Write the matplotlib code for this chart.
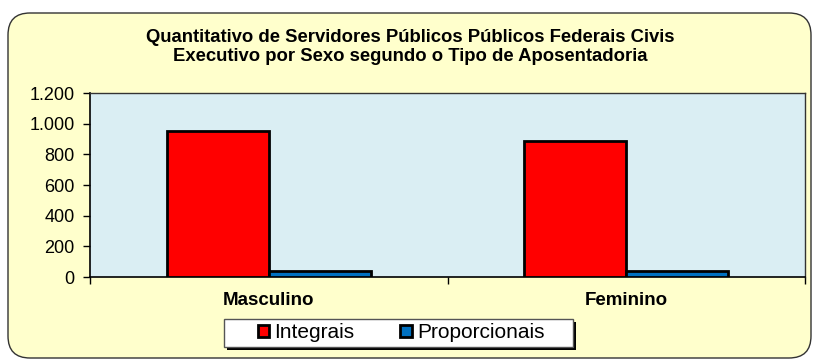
import matplotlib.pyplot as plt
import numpy as np
from matplotlib.patches import FancyBboxPatch, Rectangle
from matplotlib.ticker import FuncFormatter

# Aposentadorias por sexo
categorias = ['Masculino', 'Feminino']
integrais = [952, 887]
proporcionais = [40, 38]
series = ['Integrais', 'Proporcionais']
cores = ['#FF0000', '#0070C0']
yticks = [0, 200, 400, 600, 800, 1000, 1200]

plt.rcParams['font.family'] = ['Liberation Sans', 'DejaVu Sans']

W, H = 813, 360
fig = plt.figure(figsize=(W / 100, H / 100), dpi=100)
fig.patch.set_facecolor('white')

# fundo em coordenadas de pixel: moldura arredondada e caixa da legenda
bg = fig.add_axes([0, 0, 1, 1], zorder=-5)
bg.set_xlim(0, W)
bg.set_ylim(H, 0)
bg.axis('off')
bg.add_patch(FancyBboxPatch((8, 13), 803, 345,
                            boxstyle='round,pad=0,rounding_size=22',
                            facecolor='#FFFFCC', edgecolor='#333333',
                            linewidth=1.0))
bg.add_patch(Rectangle((227, 322), 349, 28, facecolor='black', edgecolor='none'))
bg.add_patch(Rectangle((224, 319), 349, 28, facecolor='white',
                       edgecolor='#555555', linewidth=1.0))

fig.text(0.505, 1 - 47 / H,
         'Quantitativo de Servidores Públicos Públicos Federais Civis\n'
         'Executivo por Sexo segundo o Tipo de Aposentadoria',
         ha='center', va='center', fontsize=13.3, fontweight='bold',
         linespacing=1.1)

ax = fig.add_axes([90 / W, 1 - 277 / H, 715 / W, 184 / H])
ax.set_facecolor('#DAEEF3')

x = np.arange(len(categorias))
largura = 1 / 3.5
ax.bar(x - largura / 2, integrais, largura, color=cores[0],
       edgecolor='black', linewidth=2, label=series[0], zorder=3)
ax.bar(x + largura / 2, proporcionais, largura, color=cores[1],
       edgecolor='black', linewidth=2, label=series[1], zorder=3)

ax.set_xlim(-0.5, 1.5)
ax.set_ylim(0, 1200)
ax.set_yticks(yticks)
ax.yaxis.set_major_formatter(FuncFormatter(lambda v, p: f'{int(v):,}'.replace(',', '.')))
ax.tick_params(axis='y', labelsize=13, length=5, width=1, pad=6)

ax.set_xticks(x)
ax.set_xticklabels(categorias, fontweight='bold', fontsize=13.5)
ax.set_xticks([-0.5, 0.5, 1.5], minor=True)
ax.tick_params(axis='x', which='major', length=0, pad=11)
ax.tick_params(axis='x', which='minor', length=5, width=1)

for lado in ['left', 'bottom']:
    ax.spines[lado].set_color('black')
    ax.spines[lado].set_linewidth(1.2)
for lado in ['top', 'right']:
    ax.spines[lado].set_color('#333333')
    ax.spines[lado].set_linewidth(1.0)

leg = fig.legend(loc='center', bbox_to_anchor=(401 / W, 1 - 333 / H),
                 ncol=2, frameon=False, fontsize=15,
                 handlelength=0.55, handleheight=0.55,
                 handletextpad=0.25, columnspacing=2.2,
                 borderpad=0, borderaxespad=0)
for h in leg.legend_handles:
    h.set_linewidth(2)

fig.savefig('out.png', dpi=100, facecolor=fig.get_facecolor())
